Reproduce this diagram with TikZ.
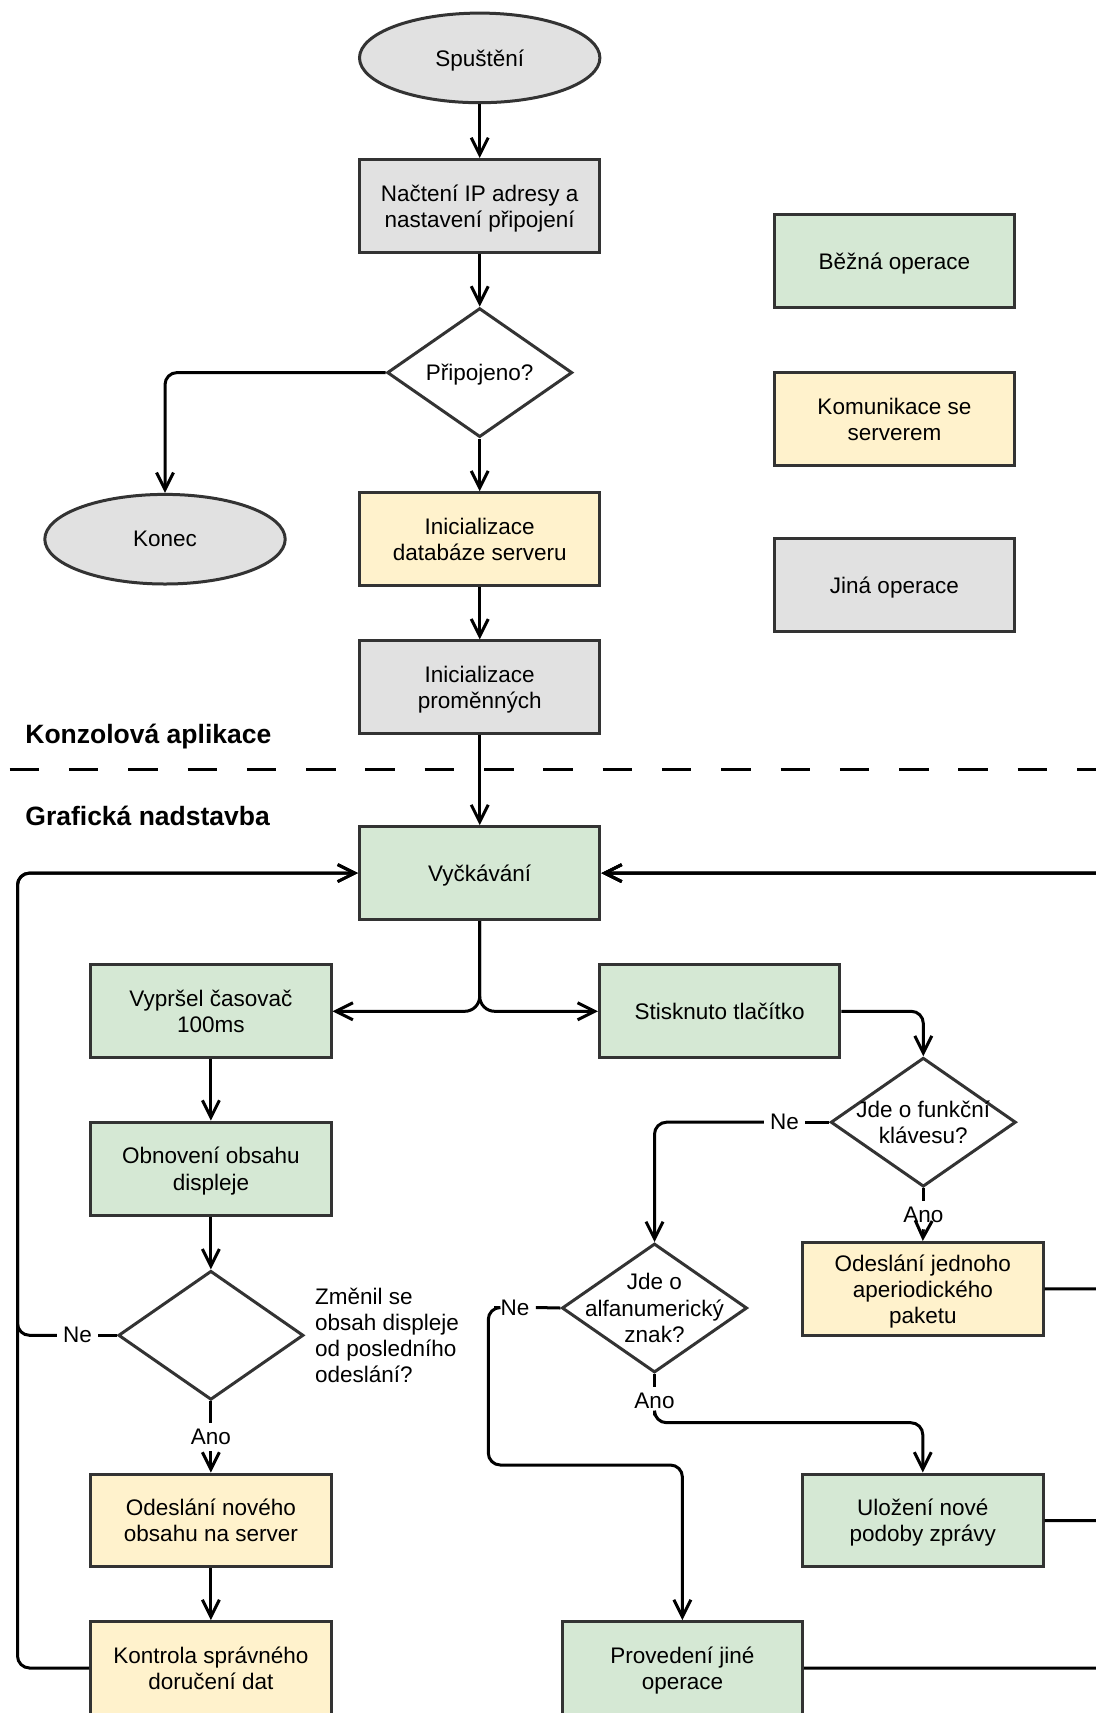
\documentclass[tikz,border=0pt]{standalone}
\usepackage{fontspec}
\setmainfont{Liberation Sans}
\usetikzlibrary{arrows.meta,shapes.geometric}
\definecolor{gfill}{HTML}{D5E8D4}
\definecolor{yfill}{HTML}{FFF2CC}
\definecolor{sfill}{HTML}{E1E1E1}
\definecolor{bord}{HTML}{333333}
\begin{document}
\begin{tikzpicture}[x=0.5pt,y=-0.5pt,
  every node/.style={font=\fontsize{11.25}{13.1}\selectfont},
  box/.style={rectangle, draw=bord, line width=1.5pt, minimum width=120.2pt, minimum height=46.45pt, inner sep=0pt, align=center, text depth=0pt},
  gbox/.style={box, fill=gfill},
  ybox/.style={box, fill=yfill},
  sbox/.style={box, fill=sfill},
  term/.style={ellipse, draw=bord, fill=sfill, line width=1.5pt, minimum width=120.2pt, minimum height=44.8pt, inner sep=0pt, text depth=0pt},
  dia/.style={diamond, draw=bord, fill=white, line width=1.5pt, minimum width=92.6pt, minimum height=64.5pt, inner sep=0pt},
  txt/.style={inner sep=0pt, align=center, text depth=0pt},
  lab/.style={fill=white, inner sep=3pt},
  head/.style={font=\fontsize{13.25}{15}\selectfont\bfseries, inner sep=0pt, anchor=base west},
  conn/.style={line width=1.5pt, black},
  arr/.style={conn, -{Straight Barb[length=8.5pt,width=8.5pt]}},
  rc/.style={rounded corners=6pt}]
\useasboundingbox (0,0) rectangle (1096,1713);
\clip (0,0) rectangle (1096,1713);

% top part
\node[term] (sp) at (479.7,57.9) {Spuštění};
\node[sbox] (nac) at (479.7,206) {Načtení IP adresy a\\nastavení připojení};
\node[dia] (pri) at (479.7,372.6) {};
\node[txt] (prit) at (pri) {Připojeno?};
\node[term] (konec) at (165,539.2) {Konec};
\node[ybox] (idb) at (479.7,539.2) {Inicializace\\databáze serveru};
\node[sbox] (ivar) at (479.7,687.3) {Inicializace\\proměnných};

% legend
\node[gbox] (leg1) at (894.4,261.1) {Běžná operace};
\node[ybox] (leg2) at (894.4,419) {Komunikace se\\serverem};
\node[sbox] (leg3) at (894.4,585.2) {Jiná operace};

% section headings and separator
\node[head] (konz) at (25,743.5) {Konzolová aplikace};
\node[head] (graf) at (25,825.5) {Grafická nadstavba};
\draw[line width=1.65pt, dash pattern=on 14.75pt off 14.9pt] (9.6,769.3) -- (1100,769.3);

% lower part
\node[gbox] (vyck) at (479.7,873.1) {Vyčkávání};
\node[gbox] (vyp) at (210.9,1011.3) {Vypršel časovač\\100ms};
\node[gbox] (stisk) at (719.6,1011.3) {Stisknuto tlačítko};
\node[dia] (fk) at (923.3,1122.2) {};
\node[txt] (fkt) at (fk) {Jde o funkční\\klávesu?};
\node[gbox] (obn) at (210.9,1168.6) {Obnovení obsahu\\displeje};
\node[dia] (zm) at (210.9,1335.3) {};
\node[txt, anchor=west, align=left] (zmt) at (314.7,1335.3) {Změnil se\\obsah displeje\\od posledního\\odeslání?};
\node[dia] (an) at (654.5,1308) {};
\node[txt] (ant) at (an) {Jde o\\alfanumerický\\znak?};
\node[ybox] (odj) at (922.8,1288.9) {Odeslání jednoho\\aperiodického\\paketu};
\node[ybox] (odn) at (210.9,1520.5) {Odeslání nového\\obsahu na server};
\node[gbox] (ul) at (922.8,1520.5) {Uložení nové\\podoby zprávy};
\node[ybox] (kon) at (210.9,1668) {Kontrola správného\\doručení dat};
\node[gbox] (prov) at (682.4,1668) {Provedení jiné\\operace};

% labels
\node[lab] (ne1) at (77.6,1335.3) {Ne};
\node[lab] (ano1) at (210.9,1437) {Ano};
\node[lab] (ne2) at (784.6,1122.2) {Ne};
\node[lab] (ano2) at (923.3,1215) {Ano};
\node[lab] (ne3) at (515,1307.5) {Ne};
\node[lab] (ano3) at (654.5,1401) {Ano};

% helper coordinates
\coordinate (lc) at (17.5,873.1);
\coordinate (rcor) at (1110,873.1);
\coordinate (c3) at (488.3,1465);
\coordinate (c4) at (654.5,1422.7);

% connectors, top
\draw[arr] (sp) -- (nac);
\draw[arr] (nac) -- (pri);
\draw[arr, rc] (pri.west) -| (konec.north);
\draw[arr] (pri.south) -- (idb.north);
\draw[arr] (idb) -- (ivar);
\draw[arr] (ivar) -- (vyck);

% split from waiting
\draw[arr, rounded corners=7.5pt] (vyck.south) |- (vyp.east);
\draw[arr, rounded corners=7.5pt] (vyck.south) |- (stisk.west);

% left column
\draw[arr] (vyp) -- (obn);
\draw[arr] (obn.south) -- (zm.north);
\draw[conn] (zm.south) -- (ano1.north);
\draw[arr] (ano1.south) -- (odn.north);
\draw[arr] (odn) -- (kon);
\draw[conn] (zm.west) -- (ne1.east);
\draw[arr, rc] (ne1.west) -| (lc) -- (vyck.west);
\draw[arr, rc] (kon.west) -| (lc) -- (vyck.west);

% right column
\draw[arr, rc] (stisk.east) -| (fk.north);
\draw[conn] (fk.west) -- (ne2.east);
\draw[arr, rc] (ne2.west) -| (an.north);
\draw[conn] (fk.south) -- (ano2.north);
\draw[arr] (ano2.south) -- (odj.north);
\draw[conn] (an.west) -- (ne3.east);
\draw[arr, rc] (ne3.west) -| (c3) -| (prov.north);
\draw[conn] (an.south) -- (ano3.north);
\draw[arr, rc] (ano3.south) -- (c4) -| (ul.north);

% returns on the right
\draw[arr, rc] (odj.east) -| (rcor) -- (vyck.east);
\draw[arr, rc] (ul.east) -| (rcor) -- (vyck.east);
\draw[arr, rc] (prov.east) -| (rcor) -- (vyck.east);
\end{tikzpicture}
\end{document}
